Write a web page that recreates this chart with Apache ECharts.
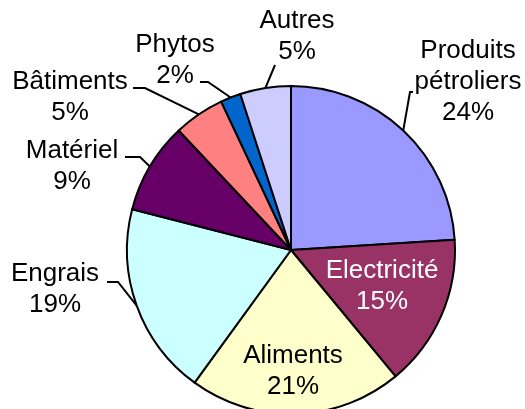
<!DOCTYPE html>
<html>
<head>
<meta charset="utf-8">
<script src="https://cdn.jsdelivr.net/npm/echarts@6/dist/echarts.min.js"></script>
<style>
html,body{margin:0;padding:0;background:#fff;}
#chart{width:525px;height:409px;}
</style>
</head>
<body>
<div id="chart"></div>
<script>
// Data
const categories = ['Produits pétroliers', 'Electricité', 'Aliments', 'Engrais', 'Matériel', 'Bâtiments', 'Phytos', 'Autres'];
const shares = [24, 15, 21, 19, 9, 5, 2, 5];
const sliceColors = ['#9999FF', '#993366', '#FFFFCC', '#CCFFFF', '#660066', '#FF8080', '#0066CC', '#CCCCFF'];

// Label layout (positions of text blocks and leader-line bends)
const labelSpots = {
  'Produits pétroliers': { x: 468, y: 82, line: [[410, 92], [413, 92]] },
  'Electricité': { x: 382, y: 286, inside: true, color: '#ffffff' },
  'Aliments': { x: 293, y: 371, inside: true },
  'Engrais': { x: 55, y: 289, line: [[118, 282], [107, 282]] },
  'Matériel': { x: 72, y: 166, line: [[140, 157], [125, 157]] },
  'Bâtiments': { x: 70, y: 97, line: [[145, 88], [133, 88]] },
  'Phytos': { x: 175, y: 60, line: [[208, 82], [200, 82]] },
  'Autres': { x: 297, y: 36, line: [[275, 65], [275, 65]] }
};

const chart = echarts.init(document.getElementById('chart'), null, { renderer: 'canvas' });

const seriesData = categories.map((name, i) => {
  const spot = labelSpots[name];
  return {
    name: name,
    value: shares[i],
    itemStyle: { color: sliceColors[i] },
    label: {
      position: spot.inside ? 'inside' : 'outside',
      color: spot.color || '#000000'
    },
    labelLine: { show: !spot.inside }
  };
});

chart.setOption({
  animation: false,
  series: [{
    type: 'pie',
    center: [291, 250],
    radius: 164,
    startAngle: 90,
    clockwise: true,
    avoidLabelOverlap: false,
    emphasis: { disabled: true },
    itemStyle: { borderColor: '#000000', borderWidth: 2 },
    label: {
      fontFamily: '"Liberation Sans", Arial, sans-serif',
      fontSize: 26,
      lineHeight: 31,
      align: 'center',
      formatter: p => p.name.replace(' ', '\n') + '\n' + p.value + '%'
    },
    labelLine: {
      length: 20,
      length2: 10,
      lineStyle: { color: '#000000', width: 2 }
    },
    labelLayout: function (params) {
      const name = categories[params.dataIndex];
      const spot = labelSpots[name];
      const out = { x: spot.x, y: spot.y, align: 'center', verticalAlign: 'middle' };
      if (!spot.inside && params.labelLinePoints) {
        const start = params.labelLinePoints[0];
        out.labelLinePoints = [start, spot.line[0], spot.line[1]];
      }
      return out;
    },
    data: seriesData
  }]
});
</script>
</body>
</html>
